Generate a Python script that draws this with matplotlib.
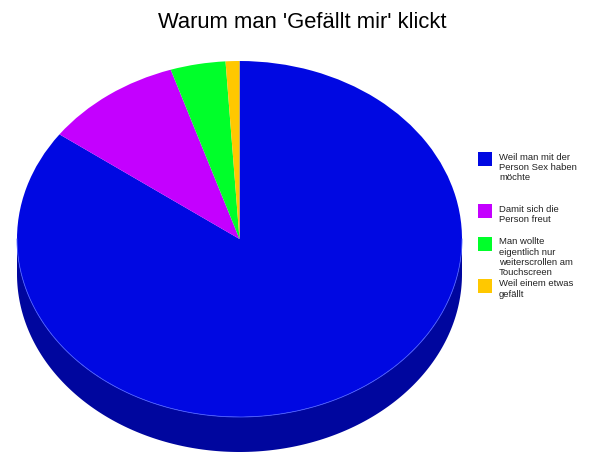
import numpy as np
import matplotlib
matplotlib.use("Agg")
import matplotlib.pyplot as plt
from matplotlib.patches import Polygon, Rectangle
import matplotlib.colors as mcolors

plt.rcParams['font.family'] = ['Liberation Sans', 'DejaVu Sans']

title = "Warum man 'Gefällt mir' klickt"
categories = ["Weil man mit der\nPerson Sex haben\nmöchte",
              "Damit sich die\nPerson freut",
              "Man wollte\neigentlich nur\nweiterscrollen am\nTouchscreen",
              "Weil einem etwas\ngefällt"]
values = [85, 10, 4, 1]
colors = ["#0008E2", "#C400FF", "#00FF2A", "#FFC800"]

W, H = 606, 463
fig = plt.figure(figsize=(W / 100, H / 100), dpi=100)

# pie geometry in pixels
cx, cy = 239.5, 239.0
rx, ry = 222.5, 178.0
depth_px = 35.0

ax = fig.add_axes([0, 0, 1, 1])
wedges, _ = ax.pie(values, colors=colors, startangle=90, counterclock=False,
                   radius=1.0, wedgeprops=dict(linewidth=0, zorder=3))
ax.set_aspect('auto')
ax.set_xlim(-cx / rx, (W - cx) / rx)
ax.set_ylim(-(H - cy) / ry, cy / ry)
ax.axis('off')

d = depth_px / ry


def darker(c, f=0.7):
    r, g, b = mcolors.to_rgb(c)
    return (r * f, g * f, b * f)


# side (3D rim) for the front half of the pie
for w, c in zip(wedges, colors):
    t1, t2 = w.theta1, w.theta2
    for k in (-1, 0, 1):
        a = max(t1 + 360 * k, 180)
        b = min(t2 + 360 * k, 360)
        if b > a:
            th = np.radians(np.linspace(a, b, 200))
            top = np.column_stack([np.cos(th), np.sin(th)])
            bot = np.column_stack([np.cos(th[::-1]), np.sin(th[::-1]) - d])
            ax.add_patch(Polygon(np.vstack([top, bot]), closed=True,
                                 facecolor=darker(c, 0.70), edgecolor='none',
                                 zorder=2))

# faint highlight along the front edge of top face
th = np.radians(np.linspace(180, 360, 300))
ax.plot(np.cos(th), np.sin(th), color='#4a5cff', lw=0.6, zorder=4)

# overlay axes in pixel coordinates for title and legend
ov = fig.add_axes([0, 0, 1, 1])
ov.set_xlim(0, W)
ov.set_ylim(H, 0)
ov.axis('off')

ov.text(302, 22, title, fontsize=15.8, ha='center', va='center', color='black')

legend_y = [152, 204, 237, 279]
for y, c, lab in zip(legend_y, colors, categories):
    ov.add_patch(Rectangle((478, y), 13.5, 13.5, facecolor=c, edgecolor='none'))
    ov.text(499, y + 0.5, lab, fontsize=6.8, ha='left', va='top',
            color='#222222', linespacing=1.15)

fig.savefig("out.png", dpi=100)
